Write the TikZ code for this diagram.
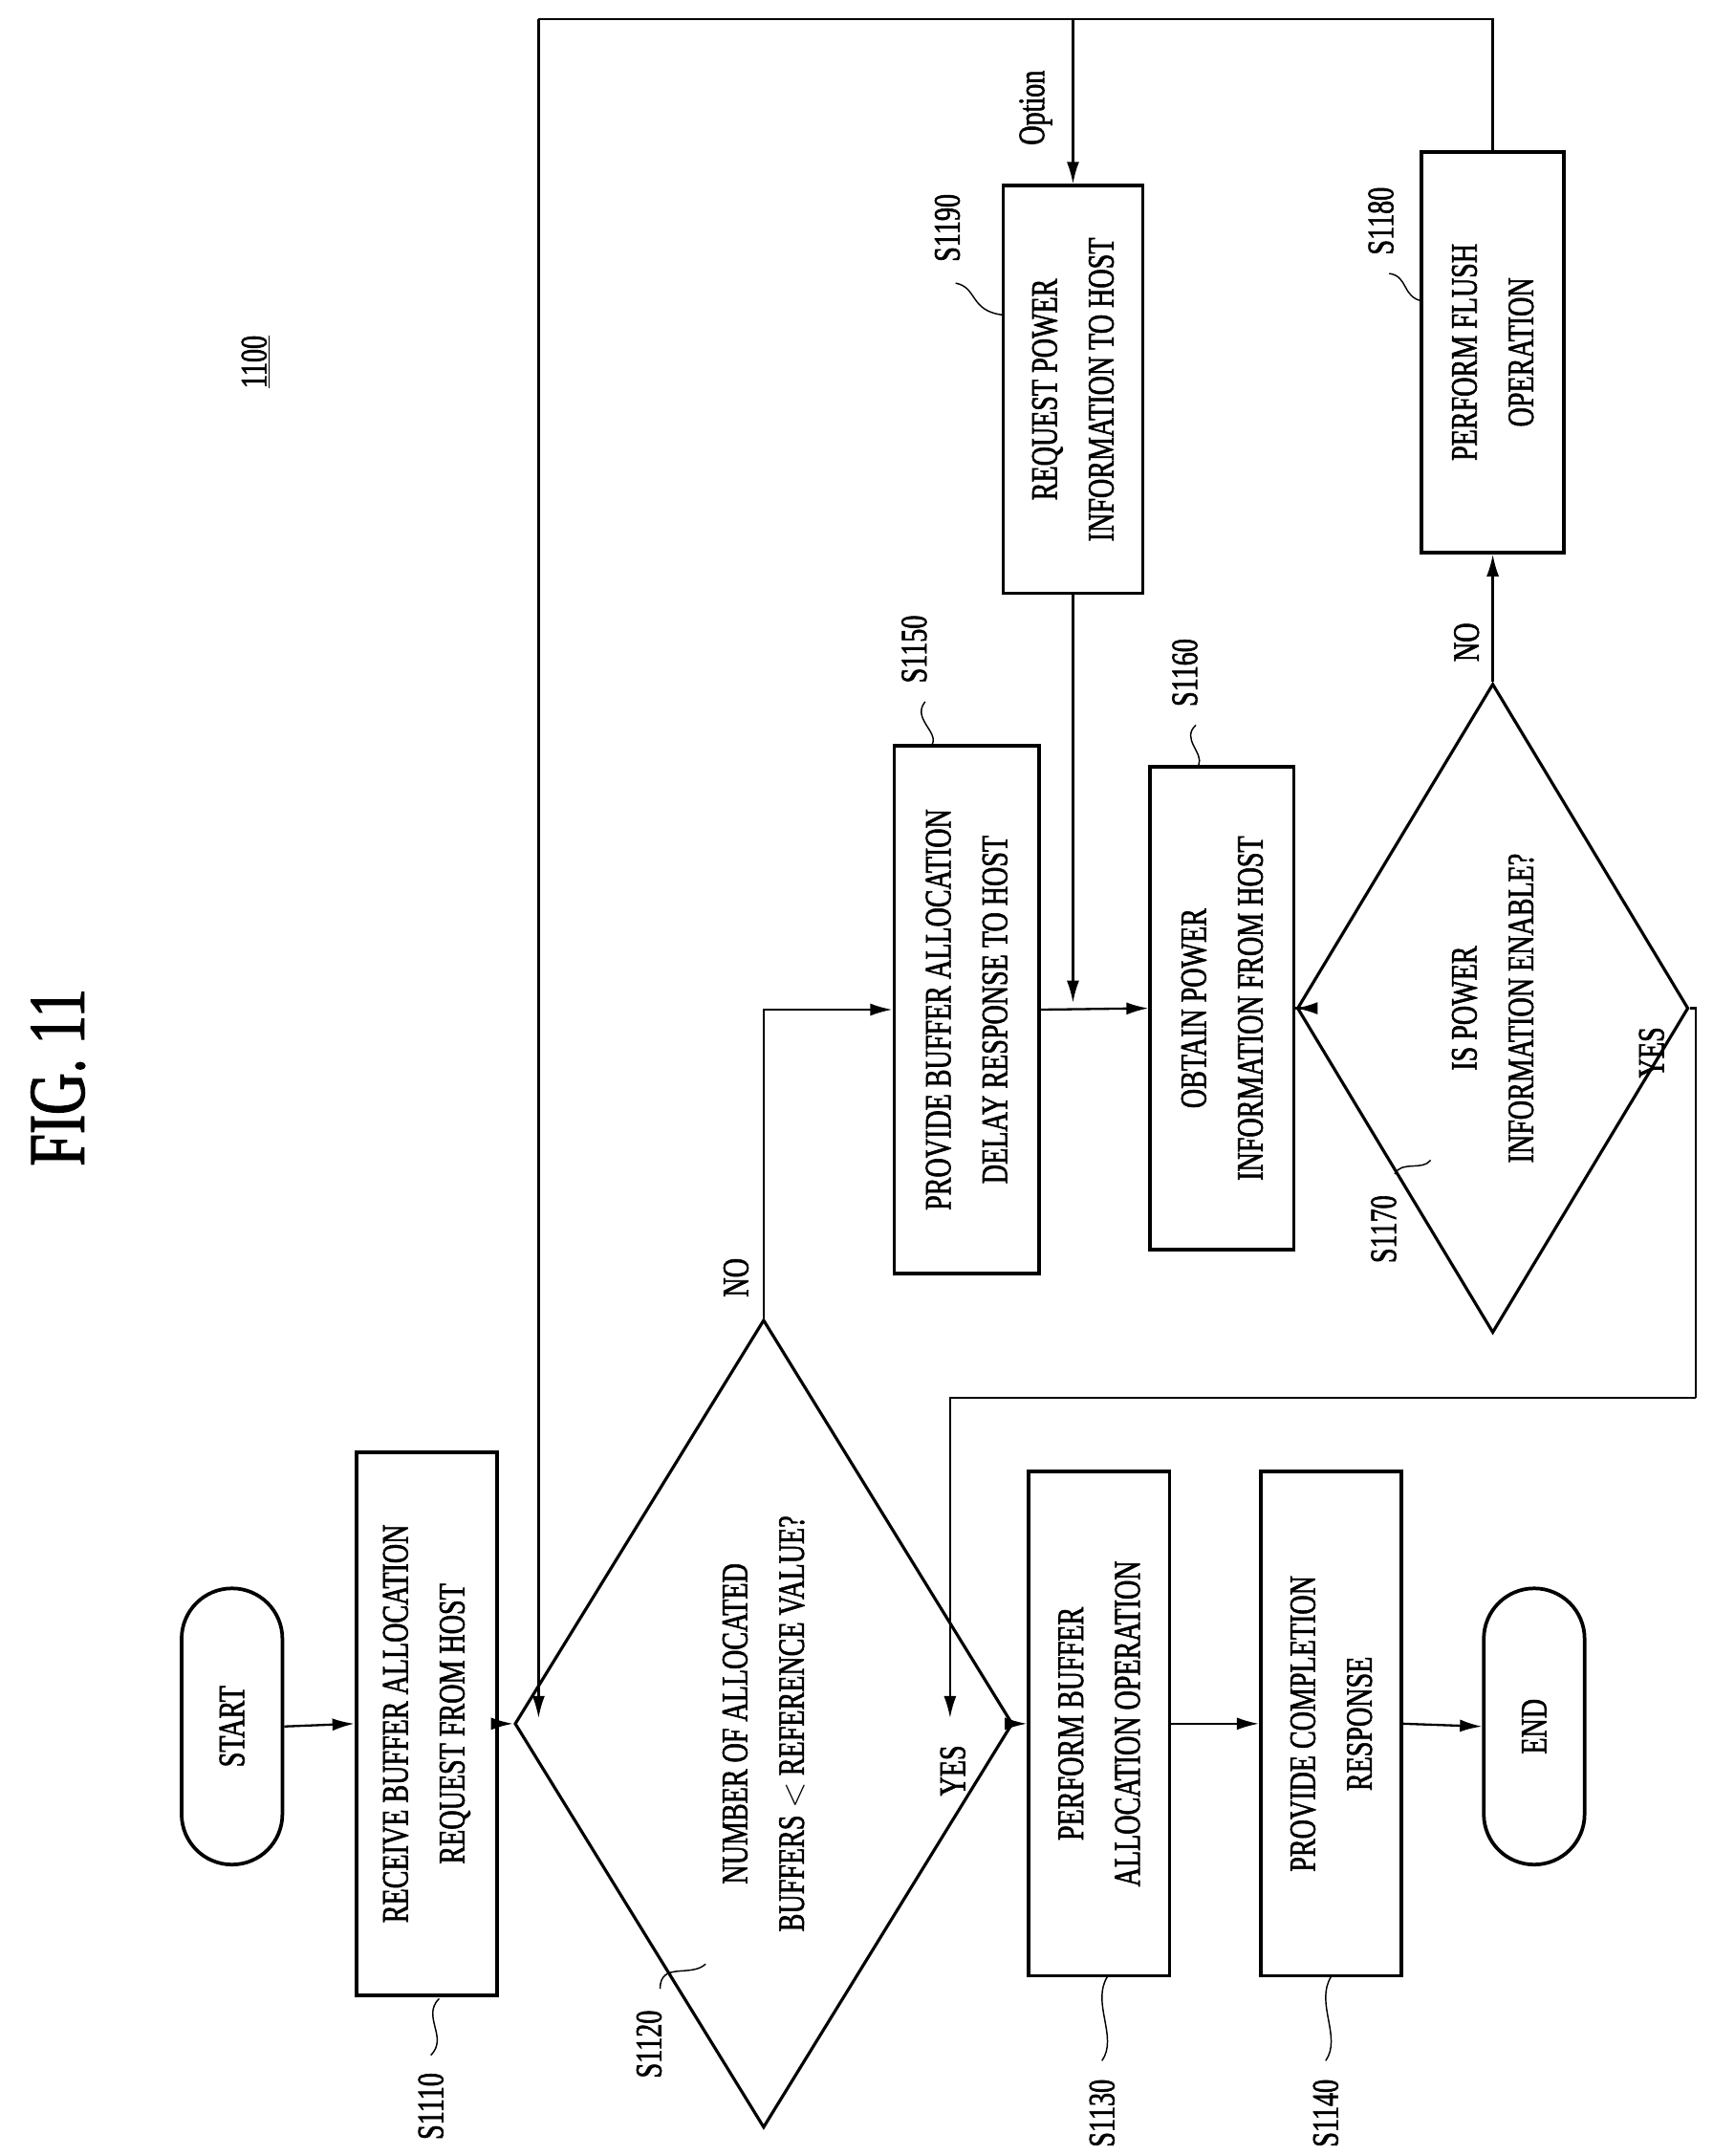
\documentclass[tikz,border=0pt]{standalone}
\usepackage{fontspec}
\setmainfont{Liberation Serif}[FakeStretch=0.72,FakeBold=1.5]
\usetikzlibrary{shapes.geometric,shapes.misc,arrows.meta}
\begin{document}
\begin{tikzpicture}[x=1pt,y=1pt,
  base/.style={draw,line width=2.6pt,rotate=90,align=center,inner sep=0pt,font=\fontsize{27}{41}\selectfont},
  box/.style={base,rectangle},
  term/.style={base,rounded rectangle},
  dia/.style={base,diamond,line width=2.2pt},
  arr/.style={-{Latex[length=16pt,width=9pt]},line width=1.6pt},
  ln/.style={line width=1.6pt},
  lab/.style={rotate=90,font=\fontsize{27}{30}\selectfont,inner sep=0pt},
  sq/.style={line width=1pt}]
\useasboundingbox (0,0) rectangle (1240,-1561);
\node[rotate=90,font=\fontsize{58}{60}\selectfont] (fig) at (42,-780) {FIG. 11};
\node[lab] (ref) at (185,-262) {\underline{1100}};

\node[term,minimum width=200,minimum height=73] (start) at (168,-1250) {START};
\node[box,minimum width=393,minimum height=102] (s1110) at (309,-1248) {RECEIVE BUFFER ALLOCATION\\REQUEST FROM HOST};
\node[dia,minimum width=585,minimum height=207] (s1120) at (553,-1248) {NUMBER OF ALLOCATED\\BUFFERS $<$ REFERENCE VALUE?};
\node[box,minimum width=365,minimum height=102] (s1130) at (796,-1248) {PERFORM BUFFER\\ALLOCATION OPERATION};
\node[box,minimum width=365,minimum height=102] (s1140) at (964,-1248) {PROVIDE COMPLETION\\RESPONSE};
\node[term,minimum width=200,minimum height=73] (end) at (1111,-1250) {END};
\node[box,minimum width=382,minimum height=105] (s1150) at (700,-731) {PROVIDE BUFFER ALLOCATION\\DELAY RESPONSE TO HOST};
\node[box,minimum width=350,minimum height=104] (s1160) at (885,-730) {OBTAIN POWER\\INFORMATION FROM HOST};
\node[dia,minimum width=470,minimum height=163] (s1170) at (1081,-730) {IS POWER\\INFORMATION ENABLE?};
\node[box,minimum width=290,minimum height=103] (s1180) at (1081,-255) {PERFORM FLUSH\\OPERATION};
\node[box,minimum width=295,minimum height=101] (s1190) at (777,-282) {REQUEST POWER\\INFORMATION TO HOST};

\coordinate (top) at (390,-14);
\coordinate (j1) at (390,-1244);
\coordinate (opt) at (777,-14);
\coordinate (j2) at (777,-726);
\coordinate (y1) at (1228,-1012);
\coordinate (j3) at (688,-1244);

\draw[arr] (start.south) -- (s1110.north);
\draw[arr] (s1110.south) -- (s1120.north);
\draw[ln] (s1180.east) |- (top);
\draw[arr] (top) -- (j1);
\draw[arr] (s1120.south) -- (s1130.north);
\draw[arr] (s1130.south) -- (s1140.north);
\draw[arr] (s1140.south) -- (end.north);
\draw[arr] (s1120.east) |- (s1150.north);
\draw[arr] (s1150.south) -- (s1160.north);
\draw[arr] (s1190.west) -- (j2);
\draw[arr] (opt) -- (s1190.east);
\draw[arr] (s1160.south) -- (s1170.north);
\draw[arr] (s1170.east) -- (s1180.west);
\draw[ln] (s1170.south) -| (y1);
\draw[arr] (y1) -| (j3);

\node[lab] (yes1) at (690,-1282) {YES};
\node[lab] (no1) at (533,-925) {NO};
\node[lab] (yes2) at (1196,-762) {YES};
\node[lab] (no2) at (1062,-465) {NO};
\node[lab] (option) at (750,-78) {Option};

\node[lab] (l1110) at (312,-1525) {S1110};
\draw[sq] (312,-1488) .. controls (325,-1475) and (305,-1460) .. (318,-1447);
\node[lab] (l1120) at (470,-1480) {S1120};
\draw[sq] (478,-1440) .. controls (478,-1420) and (500,-1432) .. (511,-1422);
\node[lab] (l1130) at (798,-1530) {S1130};
\draw[sq] (798,-1492) .. controls (810,-1475) and (790,-1450) .. (802,-1431);
\node[lab] (l1140) at (960,-1530) {S1140};
\draw[sq] (960,-1492) .. controls (972,-1475) and (952,-1450) .. (964,-1431);
\node[lab] (l1150) at (662,-470) {S1150};
\draw[sq] (670,-508) .. controls (660,-520) and (680,-530) .. (675,-539);
\node[lab] (l1160) at (858,-487) {S1160};
\draw[sq] (866,-525) .. controls (855,-535) and (872,-545) .. (868,-554);
\node[lab] (l1170) at (1002,-890) {S1170};
\draw[sq] (1010,-850) .. controls (1015,-840) and (1030,-848) .. (1036,-840);
\node[lab] (l1180) at (1000,-160) {S1180};
\draw[sq] (1006,-198) .. controls (1020,-200) and (1015,-215) .. (1030,-218);
\node[lab] (l1190) at (686,-165) {S1190};
\draw[sq] (692,-205) .. controls (708,-208) and (702,-225) .. (726,-228);
\end{tikzpicture}
\end{document}
